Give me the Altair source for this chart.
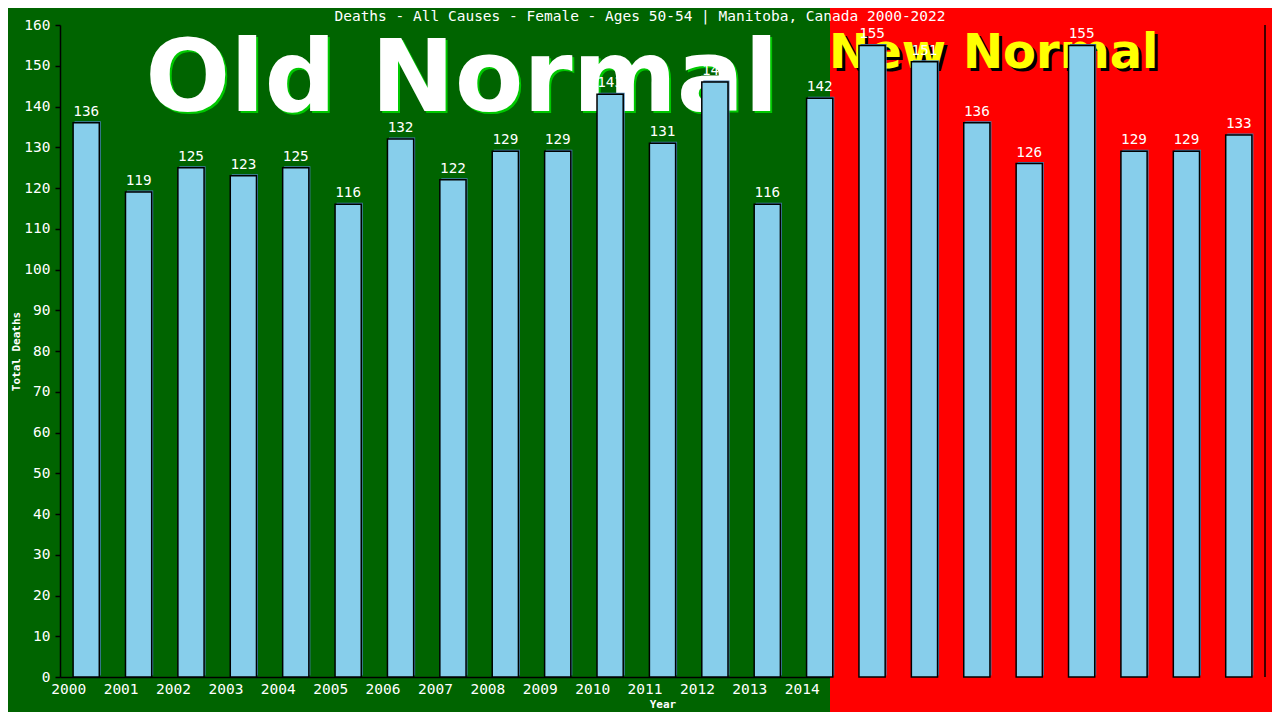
import altair as alt
import pandas as pd

years = [str(y) for y in range(2000, 2023)]
deaths = [136, 119, 125, 123, 125, 116, 132, 122, 129, 129, 143, 131, 146,
          116, 142, 155, 151, 136, 126, 155, 129, 129, 133]
y_ticks = list(range(0, 170, 10))

title_text = ["Deaths - All Causes - Female - Ages 50-54 | Manitoba, Canada 2000-2022"]

old_label = ["Old Normal"]
old_year = ["2007"]
old_y = [139]
new_label = ["New Normal"]
new_year = ["2017"]
new_y = [149.5]

df = pd.DataFrame({"year": years, "deaths": deaths})
old_df = pd.DataFrame({"year": old_year, "v": old_y, "t": old_label})
new_df = pd.DataFrame({"year": new_year, "v": new_y, "t": new_label})
title_df = pd.DataFrame({"t": title_text})

W, H = 1205, 652
MONO = "DejaVu Sans Mono"

x_enc = alt.X(
    "year:O",
    scale=alt.Scale(domain=years, paddingInner=0.5, paddingOuter=0.25),
    axis=alt.Axis(
        title="Year", labelAngle=0, ticks=False, domainColor="black",
        domainWidth=1.5, labelColor="white", labelFont=MONO, labelFontSize=14.5,
        labelPadding=12, titleColor="white", titleFont=MONO, titleFontSize=11,
        titleFontWeight="bold", titlePadding=3,
    ),
)
y_enc = alt.Y(
    "deaths:Q",
    scale=alt.Scale(domain=[0, 160], nice=False),
    axis=alt.Axis(
        title="Total Deaths", values=y_ticks, tickSize=5, tickColor="black",
        tickWidth=1.5, domainColor="black", domainWidth=1.5, labelColor="white",
        labelFont=MONO, labelFontSize=14.5, labelPadding=5, titleColor="white",
        titleFont=MONO, titleFontSize=11, titleFontWeight="bold", titlePadding=2,
    ),
)

red_bg = alt.Chart(pd.DataFrame({"a": [0]})).mark_rect(color="#FF0000").encode(
    x=alt.value(770), x2=alt.value(1300), y=alt.value(-60), y2=alt.value(760)
)

title_mark = alt.Chart(title_df).mark_text(
    font=MONO, fontSize=14.5, color="white", baseline="middle", align="center"
).encode(x=alt.value(580), y=alt.value(-8), text="t:N")

old_shadow = alt.Chart(old_df).mark_text(
    font="DejaVu Sans", fontWeight="bold", fontSize=100, color="#00C800",
    baseline="alphabetic", align="center", dx=11, dy=2,
).encode(x="year:O", y="v:Q", text="t:N")
old_text = alt.Chart(old_df).mark_text(
    font="DejaVu Sans", fontWeight="bold", fontSize=100, color="white",
    baseline="alphabetic", align="center", dx=9,
).encode(x="year:O", y="v:Q", text="t:N")

new_shadow = alt.Chart(new_df).mark_text(
    font="DejaVu Sans", fontWeight="bold", fontSize=48, color="black",
    baseline="alphabetic", align="center", dx=20, dy=3,
).encode(x="year:O", y="v:Q", text="t:N")
new_text = alt.Chart(new_df).mark_text(
    font="DejaVu Sans", fontWeight="bold", fontSize=48, color="#FFFF00",
    baseline="alphabetic", align="center", dx=17,
).encode(x="year:O", y="v:Q", text="t:N")

base = alt.Chart(df)
bar_shadow = base.mark_bar(color="#4682B4", xOffset=1.5, yOffset=-1.5).encode(
    x=x_enc, y=y_enc
)
bars = base.mark_bar(color="#87CEEB", stroke="black", strokeWidth=1.5).encode(
    x=x_enc, y=y_enc
)
labels = base.mark_text(
    color="white", font=MONO, fontSize=14.3, baseline="alphabetic", dy=-7
).encode(x=x_enc, y=y_enc, text="deaths:Q")

right_border = alt.Chart(pd.DataFrame({"a": [0]})).mark_rule(
    color="black", strokeWidth=1.5
).encode(x=alt.value(W), y=alt.value(0), y2=alt.value(H))

chart = alt.layer(
    red_bg, title_mark, old_shadow, old_text, new_shadow, new_text,
    bar_shadow, bars, labels, right_border,
).properties(
    width=W, height=H,
    background="#006400",
    padding={"left": 52, "top": 17, "right": 7, "bottom": 35},
    autosize=alt.AutoSizeParams(type="none"),
).configure_view(stroke=None).configure_axis(grid=False)

chart.save("out.html", embed_options={"renderer": "svg", "actions": False})
